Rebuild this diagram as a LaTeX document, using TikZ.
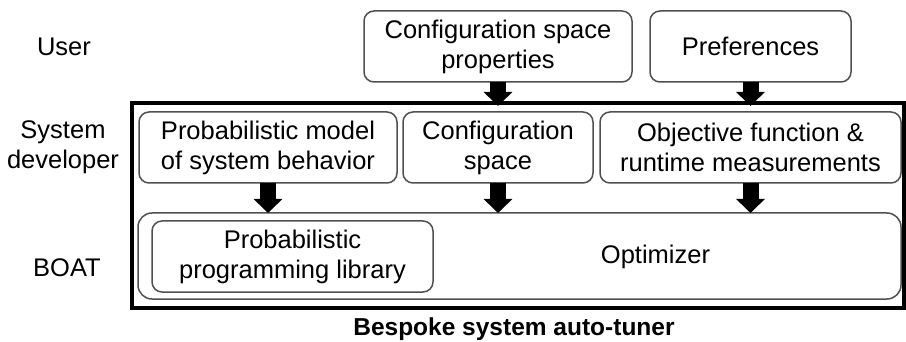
\documentclass[tikz,border=0pt]{standalone}
\usepackage{fontspec}
\setsansfont{Liberation Sans}
\usepackage{tikz}
\usetikzlibrary{arrows.meta}
\definecolor{rahmen}{RGB}{80,80,80}

\begin{document}
\begin{tikzpicture}[x=1pt, y=-1pt, font=\sffamily\fontsize{25.5}{30}\selectfont,
	kasten/.style={draw=rahmen, line width=1.5pt, rounded corners=10pt, align=center, inner sep=0pt, outer sep=0pt},
	blockpfeil/.style={line width=16pt, -{Triangle[length=14pt, width=28pt]}}]

	\useasboundingbox (0,0) rectangle (906,342);

	% Rollen links
	\node (user) at (64,47) {User};
	\node[align=center] (dev) at (63,147.5) {System\\developer};
	\node (boat) at (67,268) {BOAT};

	% Eingaben des Users
	\node[kasten, minimum width=268pt, minimum height=71pt] (props) at (498,46.5) {Configuration space\\properties};
	\node[kasten, minimum width=201pt, minimum height=71pt] (prefs) at (750.5,46.5) {Preferences};

	% Rahmen des Tuners
	\node[draw, line width=4pt, inner sep=0pt, outer sep=0pt, minimum width=772pt, minimum height=205pt] (tuner) at (518,205.5) {};

	% Teile vom Entwickler
	\node[kasten, minimum width=258pt, minimum height=71pt] (model) at (268,147.5) {Probabilistic model\\of system behavior};
	\node[kasten, minimum width=190pt, minimum height=71pt] (space) at (498,147.5) {Configuration\\space};
	\node[kasten, minimum width=301pt, minimum height=71pt] (objective) at (750.5,147.5) {Objective function \&\\runtime measurements};

	% BOAT
	\node[kasten, rounded corners=14pt, minimum width=763pt, minimum height=86pt] (optimizer) at (519.5,256) {};
	\node (optlabel) at (655.5,257) {Optimizer};
	\node[kasten, minimum width=281pt, minimum height=71pt] (library) at (292.5,256.5) {Probabilistic\\programming library};

	\node[font=\sffamily\bfseries\fontsize{24.5}{29}\selectfont] (titel) at (514,329) {Bespoke system auto-tuner};

	% Pfeile
	\draw[blockpfeil] (props.south) -- ([yshift=-3pt]props.south |- tuner.north);
	\draw[blockpfeil] (prefs.south) -- ([yshift=-3pt]prefs.south |- tuner.north);
	\draw[blockpfeil] (model.south) -- (model.south |- optimizer.north);
	\draw[blockpfeil] (space.south) -- (space.south |- optimizer.north);
	\draw[blockpfeil] (objective.south) -- (objective.south |- optimizer.north);

\end{tikzpicture}
\end{document}
